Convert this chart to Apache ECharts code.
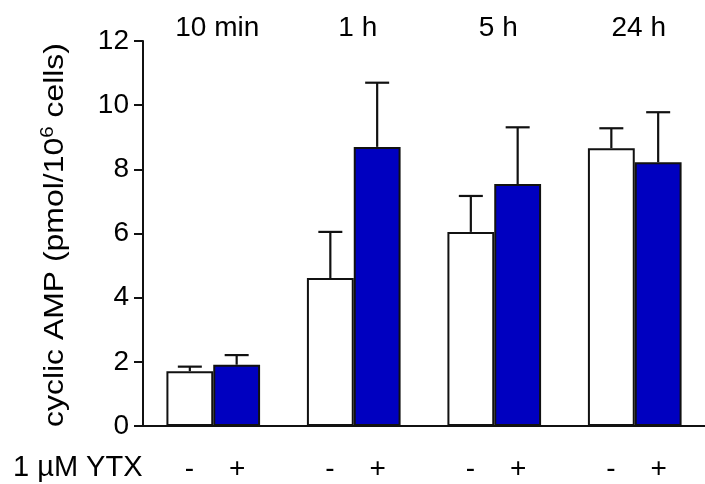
<!DOCTYPE html>
<html>
<head>
<meta charset="utf-8">
<script src="https://cdn.jsdelivr.net/npm/echarts@6/dist/echarts.min.js"></script>
<style>
  html, body { margin: 0; padding: 0; background: #fff; }
  #chart { width: 705px; height: 484px; }
</style>
</head>
<body>
<div id="chart"></div>
<script>
// Time points after treatment
var timePoints = ['10 min', '1 h', '5 h', '24 h'];
// Mean cAMP (pmol/10^6 cells), untreated and 1 µM YTX
var controlMean = [1.71, 4.61, 6.05, 8.66];
var ytxMean = [1.91, 8.70, 7.54, 8.22];
// Upper error (SEM)
var controlErr = [0.14, 1.44, 1.12, 0.62];
var ytxErr = [0.30, 2.00, 1.77, 1.56];
// Treatment marks under each pair of bars
var treatLabels = ['-', '+'];
var yTicks = { min: 0, max: 12, interval: 2 };

var FONT = '"Liberation Sans", Arial, Helvetica, sans-serif';
var INK = '#111';
var BAR_FRACTION = 1 / 3;

function errorSeries(name, means, errs, side) {
  return {
    type: 'custom',
    name: name + ' error',
    data: means.map(function (m, i) { return [i, m, m + errs[i]]; }),
    encode: { x: 0, y: [1, 2] },
    z: 3,
    renderItem: function (params, api) {
      var idx = api.value(0);
      var base = api.coord([idx, api.value(1)]);
      var top = api.coord([idx, api.value(2)]);
      var band = api.size([1, 0])[0];
      var barW = band * BAR_FRACTION;
      var x = base[0] + side * barW / 2;
      var cap = 12;
      var st = { stroke: INK, lineWidth: 2.2, fill: null };
      return {
        type: 'group',
        children: [
          { type: 'line', shape: { x1: x, y1: base[1], x2: x, y2: top[1] }, style: st },
          { type: 'line', shape: { x1: x - cap, y1: top[1], x2: x + cap, y2: top[1] }, style: st }
        ]
      };
    }
  };
}

var chart = echarts.init(document.getElementById('chart'), null, { renderer: 'canvas' });

chart.setOption({
  animation: false,
  backgroundColor: '#fff',
  textStyle: { fontFamily: FONT },
  grid: { left: 143, top: 41, width: 573, height: 385, containLabel: false },
  xAxis: [
    {
      type: 'category',
      data: timePoints,
      position: 'bottom',
      axisLine: { show: true, lineStyle: { color: INK, width: 2 } },
      axisTick: { show: false },
      axisLabel: {
        margin: 29,
        formatter: function () {
          return '{m|' + treatLabels[0] + '}{p|' + treatLabels[1] + '}';
        },
        rich: {
          m: { width: 47.7, align: 'center', fontSize: 28, color: '#000', fontFamily: FONT },
          p: { width: 47.7, align: 'center', fontSize: 28, color: '#000', fontFamily: FONT }
        }
      },
      splitLine: { show: false }
    },
    {
      type: 'category',
      data: timePoints,
      position: 'top',
      axisLine: { show: false },
      axisTick: { show: false },
      axisLabel: {
        margin: -1,
        formatter: function (v) { return '{t|' + v + '}'; },
        rich: {
          t: { fontSize: 28, color: '#000', fontFamily: FONT, padding: [0, 0, 0, 8] }
        }
      },
      splitLine: { show: false }
    }
  ],
  yAxis: {
    type: 'value',
    min: yTicks.min,
    max: yTicks.max,
    interval: yTicks.interval,
    axisLine: { show: true, lineStyle: { color: INK, width: 2 } },
    axisTick: { show: true, length: 9, lineStyle: { color: INK, width: 2 } },
    axisLabel: { margin: 14, fontSize: 28, color: '#000', fontFamily: FONT },
    splitLine: { show: false }
  },
  series: [
    {
      type: 'bar',
      name: 'control',
      data: controlMean,
      barWidth: (BAR_FRACTION * 100) + '%',
      barGap: '0%',
      itemStyle: { color: '#ffffff', borderColor: INK, borderWidth: 2 },
      z: 2
    },
    {
      type: 'bar',
      name: '1 µM YTX',
      data: ytxMean,
      barWidth: (BAR_FRACTION * 100) + '%',
      barGap: '0%',
      itemStyle: { color: '#0000c0', borderColor: INK, borderWidth: 2 },
      z: 2
    },
    errorSeries('control', controlMean, controlErr, -1),
    errorSeries('ytx', ytxMean, ytxErr, 1)
  ],
  graphic: [
    {
      type: 'text',
      x: 55,
      y: 235,
      rotation: Math.PI / 2,
      scaleX: 1.14,
      style: {
        text: 'cyclic AMP (pmol/10{s|6} cells)',
        fontSize: 28,
        fontFamily: FONT,
        fill: '#000',
        align: 'center',
        verticalAlign: 'middle',
        lineHeight: 32,
        rich: {
          s: { fontSize: 18, lineHeight: 18, verticalAlign: 'top', fontFamily: FONT, fill: '#000' }
        }
      }
    },
    {
      type: 'text',
      x: 13,
      y: 468,
      style: {
        text: '1 µM YTX',
        fontSize: 29,
        fontFamily: FONT,
        fill: '#000',
        align: 'left',
        verticalAlign: 'middle'
      }
    }
  ]
});
</script>
</body>
</html>
